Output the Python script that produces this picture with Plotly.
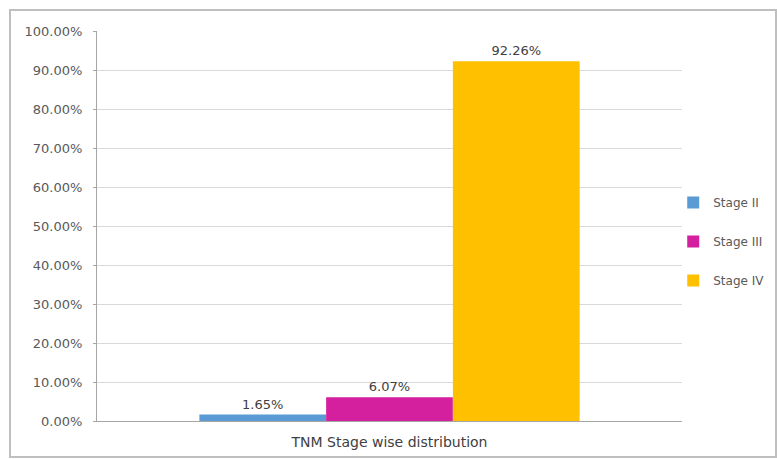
import plotly.graph_objects as go

categories = ["TNM Stage wise distribution"]
series_names = ["Stage II", "Stage III", "Stage IV"]
series_values = [1.65, 6.07, 92.26]
series_colors = ["#5b9bd5", "#d41f9f", "#ffc000"]
y_ticks = [0, 10, 20, 30, 40, 50, 60, 70, 80, 90, 100]
y_tick_labels = [f"{v:.2f}%" for v in y_ticks]

font_family = "DejaVu Sans"
fig = go.Figure()
for name, val, col in zip(series_names, series_values, series_colors):
    fig.add_trace(go.Bar(
        x=categories, y=[val], name=name, marker_color=col,
        marker_line_width=0, legendgroup=name,
        text=[f"{val:.2f}%"], textposition="outside",
        textfont=dict(size=13, color="#404040", family=font_family),
        cliponaxis=False,
    ))

fig.update_layout(
    width=777, height=459,
    margin=dict(l=97, r=95, t=31, b=38, autoexpand=False),
    paper_bgcolor="white", plot_bgcolor="white",
    barmode="group", bargap=0.35, bargroupgap=0,
    font=dict(family=font_family, size=13, color="#595959"),
    showlegend=True,
    legend=dict(x=0.985, y=0.46, xanchor="left", yanchor="middle",
                font=dict(size=12, color="#595959"), tracegroupgap=20,
                itemwidth=30, bgcolor="rgba(0,0,0,0)"),
    xaxis=dict(showline=True, linecolor="#a6a6a6", linewidth=1,
               tickfont=dict(size=14, color="#404040"), ticks="",
               ticklabelstandoff=8),
    yaxis=dict(range=[0, 100], tickvals=y_ticks, ticktext=y_tick_labels,
               showgrid=True, gridcolor="#d9d9d9", gridwidth=1,
               showline=True, linecolor="#a6a6a6", linewidth=1,
               ticks="outside", ticklen=3, tickcolor="#a6a6a6",
               ticklabelstandoff=8,
               zeroline=False, tickfont=dict(size=13, color="#595959")),
    shapes=[dict(type="rect", xref="paper", yref="paper",
                 x0=-0.1487, x1=1.1607, y0=-0.0923, y1=1.0538,
                 line=dict(color="#bfbfbf", width=2), layer="below")],
)
fig.write_html("out.html")
